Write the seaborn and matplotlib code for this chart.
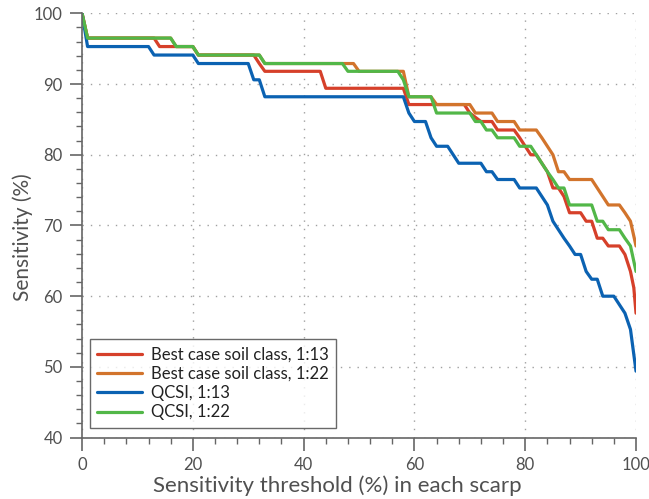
import matplotlib
matplotlib.use("Agg")
import matplotlib.pyplot as plt
import numpy as np
import pandas as pd
import seaborn as sns
from matplotlib.ticker import MultipleLocator

# Step curves (threshold %, sensitivity %)
best13_x = [0, 1, 13, 14, 20, 21, 31, 32, 33, 43, 44, 58, 59, 69, 70, 72, 74, 75, 78, 79,
            80, 81, 82, 83, 84, 85, 86, 87, 88, 90, 91, 92, 93, 94, 95, 97, 98, 99, 99.6, 100]
best13_y = [100, 96.5, 96.5, 95.3, 95.3, 94.1, 94.1, 92.9, 91.8, 91.8, 89.4, 89.4, 87.1, 87.1,
            85.9, 84.7, 84.7, 83.5, 83.5, 82.4, 81.2, 80.0, 80.0, 78.8, 77.6, 75.3, 75.3, 74.1,
            71.8, 71.8, 70.6, 70.6, 68.2, 68.2, 67.1, 67.1, 65.9, 63.5, 61.2, 57.6]

best22_x = [0, 1, 16, 17, 20, 21, 32, 33, 49, 50, 58, 59, 63, 64, 70, 71, 74, 75, 78, 79,
            82, 83, 84, 85, 86, 87, 88, 92, 93, 94, 95, 97, 98, 99, 100]
best22_y = [100, 96.5, 96.5, 95.3, 95.3, 94.1, 94.1, 92.9, 92.9, 91.8, 91.8, 88.2, 88.2, 87.1,
            87.1, 85.9, 85.9, 84.7, 84.7, 83.5, 83.5, 82.4, 81.2, 80.0, 77.6, 77.6, 76.5, 76.5,
            75.3, 74.1, 72.9, 72.9, 71.8, 70.6, 67.1]

qcsi13_x = [0, 1, 12, 13, 20, 21, 30, 31, 32, 33, 58, 59, 60, 62, 63, 64, 66, 67, 68, 72, 73,
            74, 75, 78, 79, 82, 83, 84, 85, 86, 87, 88, 89, 90, 91, 92, 93, 94, 96, 97, 98, 99, 100]
qcsi13_y = [100, 95.3, 95.3, 94.1, 94.1, 92.9, 92.9, 90.6, 90.6, 88.2, 88.2, 85.9, 84.7, 84.7,
            82.4, 81.2, 81.2, 80.0, 78.8, 78.8, 77.6, 77.6, 76.5, 76.5, 75.3, 75.3, 74.1, 72.9,
            70.6, 69.4, 68.2, 67.1, 65.9, 65.9, 63.5, 62.4, 62.4, 60.0, 60.0, 58.8, 57.6, 55.3, 49.4]

qcsi22_x = [0, 1, 16, 17, 20, 21, 32, 33, 47, 48, 57, 58, 59, 63, 64, 70, 71, 72, 73, 74, 75,
            78, 79, 81, 82, 83, 84, 85, 86, 87, 88, 92, 93, 94, 95, 97, 98, 99, 100]
qcsi22_y = [100, 96.5, 96.5, 95.3, 95.3, 94.1, 94.1, 92.9, 92.9, 91.8, 91.8, 90.6, 88.2, 88.2,
            85.9, 85.9, 84.7, 84.7, 83.5, 83.5, 82.4, 82.4, 81.2, 81.2, 80.0, 78.8, 77.6, 76.5,
            75.3, 75.3, 72.9, 72.9, 70.6, 70.6, 69.4, 69.4, 68.2, 67.1, 63.5]

SERIES = [
    ("Best case soil class, 1:13", best13_x, best13_y),
    ("Best case soil class, 1:22", best22_x, best22_y),
    ("QCSI, 1:13", qcsi13_x, qcsi13_y),
    ("QCSI, 1:22", qcsi22_x, qcsi22_y),
]
COLORS = {
    "Best case soil class, 1:13": "#d6402a",
    "Best case soil class, 1:22": "#d2742c",
    "QCSI, 1:13": "#0b62b2",
    "QCSI, 1:22": "#52b748",
}


def main():
    rows = []
    for name, xs, ys in SERIES:
        for i, (x, y) in enumerate(zip(xs, ys)):
            rows.append({"Series": name, "order": i, "Threshold": x, "Sensitivity": y})
    df = pd.DataFrame(rows)

    sns.set_theme(style="ticks")
    plt.rcParams["font.family"] = ["Lato", "DejaVu Sans"]
    text_col = "#505050"

    fig = plt.figure(figsize=(6.49, 4.99), dpi=100)
    ax = fig.add_axes([0.1264, 0.123, 0.8536, 0.8503])

    sns.lineplot(
        data=df, x="Threshold", y="Sensitivity", hue="Series",
        units="Series", estimator=None, sort=False,
        palette=COLORS, linewidth=2.3, ax=ax,
    )

    ax.set_xlim(0, 100)
    ax.set_ylim(40, 100)
    ax.xaxis.set_major_locator(MultipleLocator(20))
    ax.xaxis.set_minor_locator(MultipleLocator(4))
    ax.yaxis.set_major_locator(MultipleLocator(10))
    ax.yaxis.set_minor_locator(MultipleLocator(2))
    ax.grid(True, which="major", linestyle=(0, (1, 5)), color="#a0a0a0", linewidth=1.0)
    ax.set_axisbelow(True)

    sns.despine(ax=ax)
    for s in ("left", "bottom"):
        ax.spines[s].set_color("#666666")
        ax.spines[s].set_linewidth(1.2)
    ax.tick_params(which="major", direction="out", length=9, width=1.2,
                   color="#666666", labelsize=12, labelcolor=text_col, pad=5)
    ax.tick_params(which="minor", direction="out", length=4.5, width=1.0, color="#666666")

    ax.set_xlabel("Sensitivity threshold (%) in each scarp", fontsize=16, color=text_col)
    ax.xaxis.set_label_coords(0.46, -0.088)
    ax.set_ylabel("Sensitivity (%)", fontsize=15, color=text_col)
    ax.yaxis.set_label_coords(-0.088, 0.473)

    leg = ax.legend(loc="lower left", bbox_to_anchor=(0.014, 0.023), borderaxespad=0,
                    fontsize=12, frameon=True, fancybox=False, handlelength=2.7,
                    handletextpad=0.5, borderpad=0.45, labelspacing=0.2)
    leg.get_frame().set_edgecolor("#444444")
    leg.get_frame().set_linewidth(1.0)
    for t in leg.get_texts():
        t.set_color("#222222")

    fig.savefig("out.png", dpi=100)


if __name__ == "__main__":
    main()
